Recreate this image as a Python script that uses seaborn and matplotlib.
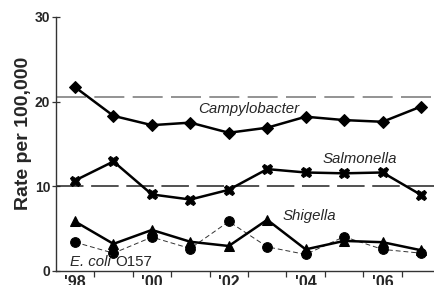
import matplotlib
matplotlib.use("Agg")
import matplotlib.pyplot as plt
import seaborn as sns
import pandas as pd
import numpy as np

years = ["'98", "'99", "'00", "'01", "'02", "'03", "'04", "'05", "'06", "'07"]
campylobacter = [21.7, 18.3, 17.2, 17.5, 16.3, 16.9, 18.2, 17.8, 17.6, 19.4]
salmonella = [10.65, 12.9, 9.0, 8.4, 9.55, 12.0, 11.6, 11.5, 11.6, 8.95]
shigella = [5.8, 3.15, 4.8, 3.4, 2.9, 6.0, 2.5, 3.5, 3.35, 2.4]
ecoli = [3.35, 2.05, 3.95, 2.6, 5.8, 2.8, 1.9, 4.0, 2.5, 2.05]
campy_target = 20.5
salm_target = 10.0
tick_years = ["'98", "'00", "'02", "'04", "'06"]

sns.set_theme(style="white")
plt.rcParams['font.family'] = ['Liberation Sans', 'DejaVu Sans']

fig = plt.figure(figsize=(4.35, 2.85), dpi=100)
ax = fig.add_axes([55.8 / 435, 14.5 / 285, 384.4 / 435, 253.5 / 285])

pos = np.arange(len(years))
df = pd.DataFrame({"pos": pos, "Campylobacter": campylobacter, "Salmonella": salmonella,
                   "Shigella": shigella, "Ecoli": ecoli})

ax.axhline(campy_target, color="#808080", lw=1.2, dashes=(18, 5), zorder=1)
ax.axhline(salm_target, color="#222222", lw=1.1, dashes=(18, 5), zorder=1)

sns.lineplot(data=df, x="pos", y="Ecoli", ax=ax, color="#333333", lw=0.7,
             linestyle=(0, (5, 3)), marker="o", markersize=7,
             markerfacecolor="black", markeredgecolor="black", zorder=2)
sns.lineplot(data=df, x="pos", y="Campylobacter", ax=ax, color="black", lw=1.8,
             marker="D", markersize=6, markerfacecolor="black", markeredgecolor="black", zorder=3)
sns.lineplot(data=df, x="pos", y="Salmonella", ax=ax, color="black", lw=1.8,
             marker="X", markersize=7.5, markerfacecolor="black", markeredgecolor="black", zorder=3)
sns.lineplot(data=df, x="pos", y="Shigella", ax=ax, color="black", lw=1.8,
             marker="^", markersize=7.5, markerfacecolor="black", markeredgecolor="black", zorder=3)

ax.set_xlim(-0.5, 9.5)
ax.set_ylim(0, 30)
ax.set_yticks([0, 10, 20, 30])
ax.set_yticklabels(["0", "10", "20", "30"], fontsize=10, fontweight="bold")
ax.set_xticks([years.index(t) for t in tick_years])
ax.set_xticklabels(tick_years, fontsize=11.5, fontweight="bold")
ax.set_xticks(pos + 0.5, minor=True)
ax.tick_params(axis="x", which="major", length=0, pad=3)
ax.tick_params(axis="x", which="minor", direction="out", length=4, width=0.9, color="#333333", bottom=True)
ax.tick_params(axis="y", which="major", direction="inout", length=6, width=0.9, color="#333333", left=True, pad=1)
ax.set_xlabel("")
ax.set_ylabel("Rate per 100,000", fontsize=14, fontweight="bold")
ax.yaxis.set_label_coords(-0.062, 0.54)

for s in ["top", "right"]:
    ax.spines[s].set_visible(False)
for s in ["left", "bottom"]:
    ax.spines[s].set_color("#333333")
    ax.spines[s].set_linewidth(1.0)

fs = 10.8
ax.text(3.2, 18.6, "Campylobacter", fontsize=fs, style="italic", va="baseline")
ax.text(6.43, 12.75, "Salmonella", fontsize=fs, style="italic", va="baseline")
ax.text(5.41, 6.0, "Shigella", fontsize=fs, style="italic", va="baseline")
t1 = ax.text(-0.13, 0.57, "E. coli ", fontsize=fs, style="italic", va="baseline")
ax.annotate("O157", xy=(1, 0), xycoords=t1, fontsize=fs, va="bottom", ha="left")

fig.savefig("out.png", dpi=100)
